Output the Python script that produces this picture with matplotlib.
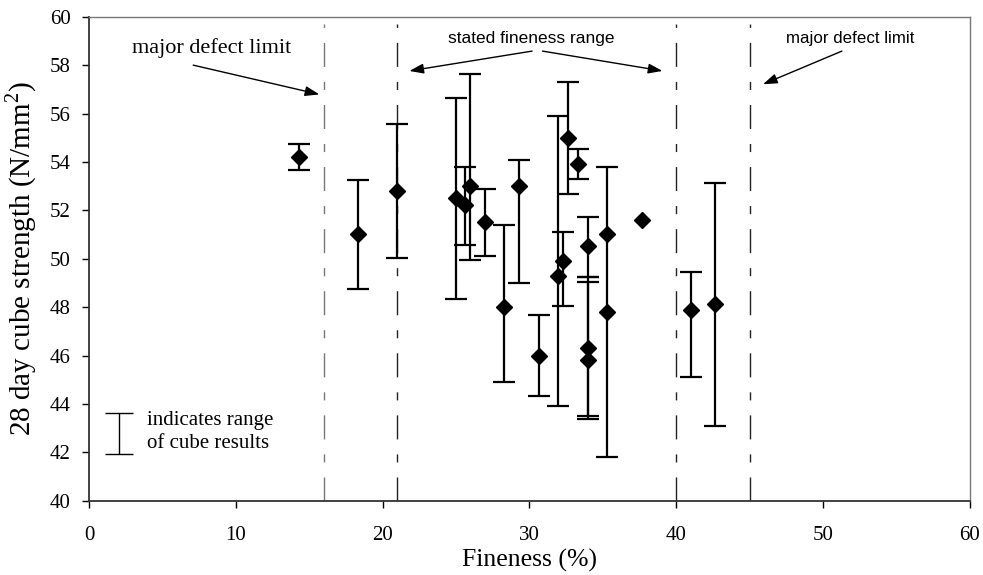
import numpy as np
import matplotlib.pyplot as plt

plt.rcParams['font.family'] = ['Liberation Serif', 'DejaVu Serif']
plt.rcParams['mathtext.fontset'] = 'custom'
plt.rcParams['mathtext.rm'] = 'Liberation Serif'

# samples with a range of cube results
fineness = [14.33, 18.35, 21.0, 24.98, 25.61, 25.95, 26.98, 28.29, 29.29, 30.65,
            31.97, 32.31, 32.65, 33.29, 33.97, 33.97, 33.97, 35.29, 40.99, 42.64]
strength = [54.2, 51.01, 52.8, 52.52, 52.21, 53.0, 51.5, 47.99, 53.0, 45.99,
            49.3, 49.92, 55.0, 53.9, 50.52, 46.31, 45.81, 47.81, 47.89, 48.12]
low = [53.65, 48.76, 50.04, 48.33, 50.58, 49.93, 50.11, 44.92, 49.01, 44.31,
       43.93, 48.05, 52.69, 53.29, 49.26, 43.39, 43.50, 41.79, 45.12, 43.10]
high = [54.74, 53.24, 55.57, 56.63, 53.80, 57.62, 52.88, 51.39, 54.08, 47.69,
        55.90, 51.10, 57.29, 54.52, 51.74, 49.26, 49.05, 53.79, 49.44, 53.12]

# single results (no range drawn)
fineness_single = [35.29, 37.65]
strength_single = [51.01, 51.60]

limit_lines = [16, 21, 40, 45]
limit_colors = ['#777777', '#222222', '#222222', '#222222']

fig = plt.figure(figsize=(9.83, 5.75), dpi=100)
ax = fig.add_axes([0.0905, 0.1292, 0.8962, 0.8417])

for xv, c in zip(limit_lines, limit_colors):
    ax.plot([xv, xv], [40, 59.7], color=c, lw=1,
            dashes=(17.3, 10.8, 5.8, 10.8), zorder=1)

strength = np.array(strength)
yerr = [strength - np.array(low), np.array(high) - strength]
ax.errorbar(fineness, strength, yerr=yerr, fmt='none', ecolor='black',
            elinewidth=1.6, capsize=8, capthick=1.6, zorder=2)
ax.plot(fineness, strength, 'D', color='black', markersize=8, zorder=3)
ax.plot(fineness_single, strength_single, 'D', color='black', markersize=8, zorder=3)

# legend glyph
ax.errorbar([2.06], [42.785], yerr=[[0.855], [0.855]], fmt='none', ecolor='black',
            elinewidth=1, capsize=10, capthick=1)
ax.text(3.93, 42.83, 'indicates range\nof cube results', fontsize=15,
        va='center', ha='left', linespacing=1.3)

# annotations
arrow = dict(arrowstyle='-|>,head_length=0.86,head_width=0.3', color='black',
             lw=1, shrinkA=0, shrinkB=0, mutation_scale=10)
ax.text(8.38, 58.72, 'major defect limit', fontsize=16, ha='center', va='center')
ax.annotate('', xy=(15.69, 56.79), xytext=(7.10, 58.0), arrowprops=arrow)

ax.text(30.12, 59.11, 'stated fineness range', fontsize=12.5, ha='center', va='center',
        family='Liberation Sans')
ax.annotate('', xy=(21.82, 57.76), xytext=(30.18, 58.58), arrowprops=arrow)
ax.annotate('', xy=(39.06, 57.76), xytext=(30.89, 58.58), arrowprops=arrow)

ax.text(51.86, 59.11, 'major defect limit', fontsize=12.2, ha='center', va='center',
        family='Liberation Sans')
ax.annotate('', xy=(45.91, 57.21), xytext=(51.28, 58.58), arrowprops=arrow)

ax.set_xlim(0, 60)
ax.set_ylim(40, 60)
ax.set_xticks(np.arange(0, 61, 10))
ax.set_yticks(np.arange(40, 61, 2))
ax.tick_params(axis='x', direction='out', length=5, width=1, labelsize=15, pad=13)
ax.tick_params(axis='y', direction='out', length=5, width=1, labelsize=15, pad=8)

for s in ['left', 'bottom']:
    ax.spines[s].set_color('#333333')
    ax.spines[s].set_linewidth(1.3)
for s in ['top', 'right']:
    ax.spines[s].set_color('#777777')
    ax.spines[s].set_linewidth(1)

ax.set_xlabel('Fineness (%)', fontsize=18.5, labelpad=3)
ax.set_ylabel('28 day cube strength (N/mm$^2$)', fontsize=21, labelpad=8)

fig.savefig('out.png', dpi=100)
